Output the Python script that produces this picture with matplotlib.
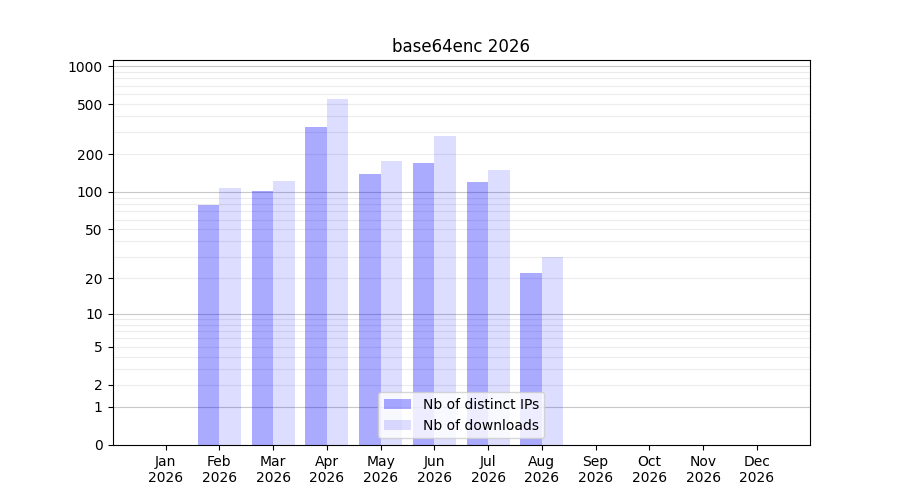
import numpy as np
import matplotlib
matplotlib.use("Agg")
import matplotlib.pyplot as plt

months = ["Jan", "Feb", "Mar", "Apr", "May", "Jun", "Jul", "Aug", "Sep", "Oct", "Nov", "Dec"]
year = "2026"
distinct_ips = [0, 79, 102, 330, 140, 171, 120, 22, 0, 0, 0, 0]
downloads = [0, 108, 123, 551, 177, 280, 150, 30, 0, 0, 0, 0]
ytick_values = [0, 1, 2, 5, 10, 20, 50, 100, 200, 500, 1000]

fig, ax = plt.subplots(figsize=(9, 5), dpi=100)
ax.set_yscale("function", functions=(lambda v: np.log10(np.clip(v, 0, None) + 1),
                                      lambda y: 10 ** y - 1))

x = np.arange(len(months))
w = 0.4
ax.bar(x - w / 2, distinct_ips, w, color="blue", alpha=1 / 3, label="Nb of distinct IPs", zorder=2)
ax.bar(x + w / 2, downloads, w, color="blue", alpha=0.135, label="Nb of downloads", zorder=2)

# grid lines
for dec in [1, 10, 100, 1000]:
    ax.axhline(dec, color="#c8c8c8", lw=0.8, zorder=1)
    if dec < 1000:
        for m in range(2, 10):
            if dec == 1 and m < 3:
                continue
            ax.axhline(dec * m, color="#ececec", lw=0.8, zorder=1)
ax.axhline(2, color="#ececec", lw=0.8, zorder=1)

ax.set_ylim(0, 1120)
ax.set_yticks(ytick_values)
ax.set_yticklabels([str(v) for v in ytick_values])
ax.minorticks_off()
ax.set_xticks(x)
ax.set_xticklabels([f"{m}\n{year}" for m in months])
ax.set_title("base64enc 2026")
ax.legend(loc="lower center")

fig.savefig("out.png")
